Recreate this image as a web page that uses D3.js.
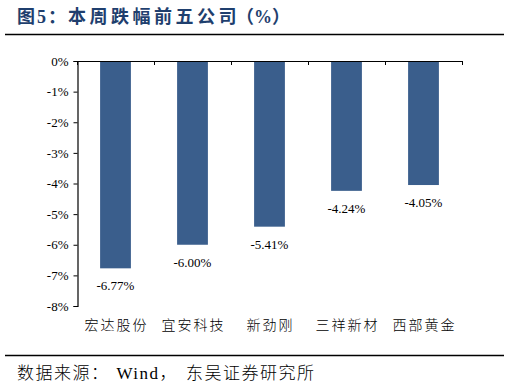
<!DOCTYPE html>
<html>
<head>
<meta charset="utf-8">
<script src="https://cdn.jsdelivr.net/npm/d3@7"></script>
<style>
  body { margin: 0; background: #fff; }
  svg { display: block; }
</style>
</head>
<body>
<svg width="510" height="389"></svg>
<script>
// data
var companies = ["宏达股份", "宜安科技", "新劲刚", "三祥新材", "西部黄金"];
var changes = [-6.77, -6.00, -5.41, -4.24, -4.05];
var yTicks = [0, -1, -2, -3, -4, -5, -6, -7, -8];

var svg = d3.select("svg"),
    width = +svg.attr("width"),
    height = +svg.attr("height");

var serif = "'Liberation Serif', 'Times New Roman', serif";
var cjk = "'Noto Sans CJK SC', sans-serif";

//title
var title = svg.append("text")
    .attr("x", 17).attr("y", 23)
    .attr("font-family", serif + ", " + cjk)
    .attr("font-size", 18).attr("font-weight", "bold")
    .attr("fill", "#1f3f6e");
title.append("tspan").attr("letter-spacing", 2).text("图5：");
title.append("tspan").attr("letter-spacing", 3.5).text("本周跌幅前五公司");
title.append("tspan").attr("dx", -4).attr("letter-spacing", 0).text("（%）");

svg.append("line")
    .attr("x1", 5).attr("x2", 504).attr("y1", 34.5).attr("y2", 34.5)
    .attr("stroke", "#000").attr("stroke-width", 1.5);

//scales
var x = d3.scaleBand()
    .domain(companies)
    .range([77, 462])
    .paddingInner(0.6)
    .paddingOuter(0.3);

var y = d3.scaleLinear()
    .domain([-8, 0])
    .range([306, 61]);

//bars
svg.append("g")
    .selectAll("rect")
    .data(companies)
    .enter().append("rect")
    .attr("x", function(d) { return x(d); })
    .attr("width", x.bandwidth())
    .attr("y", y(0))
    .attr("height", function(d, i) { return y(changes[i]) - y(0); })
    .attr("fill", "#3a5e8c");

//value labels
svg.append("g")
    .selectAll("text")
    .data(companies)
    .enter().append("text")
    .attr("x", function(d) { return x(d) + x.bandwidth() / 2; })
    .attr("y", function(d, i) { return y(changes[i]) + 22; })
    .attr("text-anchor", "middle")
    .attr("font-family", serif)
    .attr("font-size", 13)
    .text(function(d, i) { return changes[i].toFixed(2) + "%"; });

//y axis
var yAxis = svg.append("g")
    .attr("transform", "translate(77.5,0)")
    .call(d3.axisLeft(y).tickValues(yTicks).tickSize(4)
        .tickFormat(function(d) { return d + "%"; }));
yAxis.select(".domain").attr("stroke", "#000").attr("stroke-width", 1.2);
yAxis.selectAll("text")
    .attr("font-family", serif).attr("font-size", 13).attr("fill", "#000")
    .attr("x", -9);

//top axis line at 0% with ticks pointing down at band edges
var edges = companies.map(function(d) { return x(d) - x.step() * 0.3; });
edges.push(462);
svg.append("line")
    .attr("x1", 77).attr("x2", 462)
    .attr("y1", y(0) + 0.5).attr("y2", y(0) + 0.5)
    .attr("stroke", "#000").attr("stroke-width", 1.2);
svg.append("g")
    .selectAll("line")
    .data(edges)
    .enter().append("line")
    .attr("x1", function(d) { return d + 0.5; })
    .attr("x2", function(d) { return d + 0.5; })
    .attr("y1", y(0)).attr("y2", y(0) + 4)
    .attr("stroke", "#000");

//category labels
svg.append("g")
    .selectAll("text")
    .data(companies)
    .enter().append("text")
    .attr("x", function(d) { return x(d) + x.bandwidth() / 2 + 1; })
    .attr("y", 330)
    .attr("text-anchor", "middle")
    .attr("font-family", cjk)
    .attr("font-weight", 300)
    .attr("font-size", 14)
    .attr("letter-spacing", 2)
    .text(function(d) { return d; });

//footer
svg.append("line")
    .attr("x1", 5).attr("x2", 504).attr("y1", 355.5).attr("y2", 355.5)
    .attr("stroke", "#000").attr("stroke-width", 1.5);

var foot = svg.append("text")
    .attr("x", 17).attr("y", 379)
    .attr("font-family", serif + ", " + cjk)
    .attr("font-size", 17)
    .attr("font-weight", 300)
    .attr("letter-spacing", 1.5);
foot.append("tspan").text("数据来源：");
foot.append("tspan").attr("dx", 7).text("Wind");
foot.append("tspan").text("，");
foot.append("tspan").attr("dx", 8).text("东吴证券研究所");
</script>
</body>
</html>
